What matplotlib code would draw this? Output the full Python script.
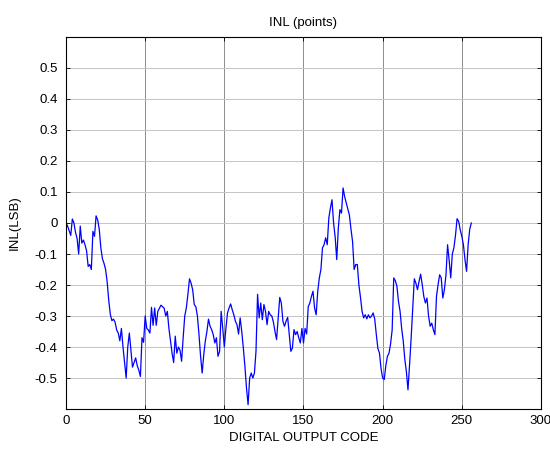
import numpy as np
import matplotlib
matplotlib.use('Agg')
import matplotlib.pyplot as plt

plt.rcParams['font.family'] = ['Liberation Sans', 'DejaVu Sans']
plt.rcParams['axes.unicode_minus'] = False

# INL per output code (codes 0..256)
inl = [
    0.00, -0.01, -0.025, -0.04, 0.013, 0.0, -0.03, -0.05, -0.10, -0.01,
    -0.065, -0.055, -0.07, -0.09, -0.14, -0.134, -0.15, -0.027, -0.043, 0.023,
    0.01, -0.02, -0.08, -0.115, -0.13, -0.15, -0.19, -0.25, -0.295, -0.315,
    -0.31, -0.32, -0.345, -0.355, -0.38, -0.34, -0.40, -0.45, -0.50, -0.40,
    -0.355, -0.41, -0.465, -0.45, -0.435, -0.46, -0.475, -0.495, -0.37, -0.385,
    -0.30, -0.34, -0.345, -0.355, -0.272, -0.33, -0.274, -0.33, -0.285, -0.275,
    -0.265, -0.27, -0.275, -0.30, -0.285, -0.34, -0.38, -0.42, -0.45, -0.365,
    -0.42, -0.40, -0.41, -0.446, -0.37, -0.30, -0.274, -0.23, -0.18, -0.194,
    -0.215, -0.263, -0.27, -0.30, -0.36, -0.43, -0.484, -0.425, -0.38, -0.35,
    -0.31, -0.333, -0.344, -0.36, -0.387, -0.37, -0.43, -0.414, -0.285, -0.34,
    -0.40, -0.34, -0.29, -0.274, -0.261, -0.28, -0.296, -0.317, -0.328, -0.358,
    -0.306, -0.35, -0.403, -0.462, -0.532, -0.586, -0.50, -0.484, -0.50, -0.484,
    -0.414, -0.23, -0.306, -0.258, -0.312, -0.263, -0.285, -0.328, -0.285, -0.296,
    -0.30, -0.32, -0.35, -0.376, -0.306, -0.24, -0.258, -0.317, -0.333, -0.317,
    -0.304, -0.36, -0.414, -0.403, -0.344, -0.36, -0.35, -0.37, -0.387, -0.34,
    -0.387, -0.34, -0.358, -0.27, -0.258, -0.237, -0.22, -0.274, -0.296, -0.22,
    -0.177, -0.15, -0.08, -0.07, -0.048, -0.07, 0.016, 0.048, 0.075, 0.0,
    -0.045, -0.118, -0.016, 0.043, 0.032, 0.113, 0.085, 0.065, 0.045, 0.025,
    -0.02, -0.06, -0.15, -0.134, -0.134, -0.2, -0.24, -0.285, -0.306, -0.296,
    -0.309, -0.296, -0.306, -0.30, -0.29, -0.31, -0.36, -0.405, -0.42, -0.47,
    -0.50, -0.505, -0.46, -0.43, -0.42, -0.39, -0.345, -0.177, -0.186, -0.204,
    -0.253, -0.285, -0.34, -0.38, -0.44, -0.48, -0.538, -0.457, -0.37, -0.274,
    -0.18, -0.194, -0.215, -0.188, -0.165, -0.199, -0.237, -0.258, -0.242, -0.30,
    -0.333, -0.323, -0.344, -0.36, -0.237, -0.199, -0.167, -0.177, -0.242, -0.215,
    -0.167, -0.07, -0.12, -0.177, -0.10, -0.08, -0.04, 0.014, 0.005, -0.022,
    -0.043, -0.07, -0.118, -0.156, -0.07, -0.02, 0.0,
]
codes = np.arange(len(inl))

x_ticks = [0, 50, 100, 150, 200, 250, 300]
y_ticks = [-0.5, -0.4, -0.3, -0.2, -0.1, 0, 0.1, 0.2, 0.3, 0.4, 0.5]
y_labels = ['-0.5', '-0.4', '-0.3', '-0.2', '-0.1', '0', '0.1', '0.2', '0.3', '0.4', '0.5']

fig = plt.figure(figsize=(5.5, 4.49), dpi=100)
ax = fig.add_axes([0.12, 0.089, 0.8636, 0.8287])

ax.plot(codes, inl, color='#0000ff', lw=0.9)

ax.set_xlim(0, 300)
ax.set_ylim(-0.6, 0.6)
ax.set_xticks(x_ticks)
ax.set_yticks(y_ticks, y_labels)
ax.tick_params(direction='in', top=True, right=True, labelsize=9.5, length=3, width=0.6)
ax.tick_params(axis='y', pad=6)
ax.tick_params(axis='x', pad=4)
ax.xaxis.grid(True, color='#8c8c8c', lw=0.7)
ax.yaxis.grid(True, color='#c4c4c4', lw=0.7)
ax.set_axisbelow(True)
for s in ax.spines.values():
    s.set_linewidth(0.8)

ax.set_title('INL (points)', fontsize=9.5, pad=8)
ax.set_xlabel('DIGITAL OUTPUT CODE', fontsize=9.5)
ax.set_ylabel('INL(LSB)', fontsize=9.5)
ax.xaxis.set_label_coords(0.5, -0.062)
ax.yaxis.set_label_coords(-0.095, 0.5)

fig.savefig('out.png', dpi=100)
